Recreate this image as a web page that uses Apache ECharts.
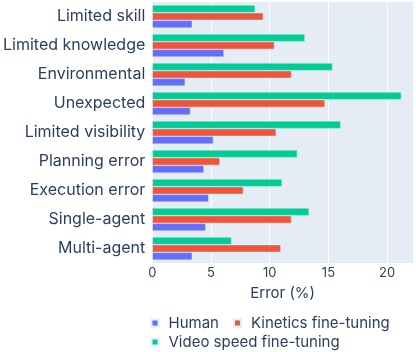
<!DOCTYPE html>
<html><head><meta charset="utf-8">
<script src="https://cdn.jsdelivr.net/npm/echarts@6/dist/echarts.min.js"></script>
<style>html,body{margin:0;padding:0;background:#fff}#c{width:416px;height:352px}</style>
</head><body><div id="c"></div>
<script>
const categories = ["Limited skill","Limited knowledge","Environmental","Unexpected","Limited visibility","Planning error","Execution error","Single-agent","Multi-agent"];
const human = [3.4, 6.1, 2.8, 3.25, 5.2, 4.4, 4.8, 4.55, 3.4];
const kinetics = [9.45, 10.4, 11.85, 14.7, 10.55, 5.75, 7.75, 11.85, 10.95];
const videoSpeed = [8.75, 13.0, 15.35, 21.2, 16.05, 12.35, 11.05, 13.35, 6.75];
const xTicks = [0, 5, 10, 15, 20];

const font = "Inter, 'Open Sans', sans-serif";
const txt = '#2a3f5f';
const chart = echarts.init(document.getElementById('c'), null, {renderer: 'canvas'});
function s(name, data, color){
  return {name, type:'bar', data, barGap:'0%', barCategoryGap:'20%',
    itemStyle:{color, borderColor:'#E5ECF6', borderWidth:0.5}};
}
const legendBase = {itemWidth:7, itemHeight:7, itemGap:14, icon:'rect', padding:0,
  textStyle:{color:txt, fontSize:15, fontFamily:font, padding:[0,0,0,5]}};
chart.setOption({
  animation:false,
  textStyle:{fontFamily:font},
  grid:{left:150.7, right:3, top:2, bottom:89, show:true, backgroundColor:'#E5ECF6', borderWidth:0, containLabel:false},
  xAxis:{type:'value', min:0, max:22.2, interval:5,
    axisLine:{show:false}, axisTick:{show:false},
    splitLine:{lineStyle:{color:'#ffffff', width:1}},
    axisLabel:{color:txt, fontSize:13, fontFamily:font, margin:4,
      formatter:v=> xTicks.includes(v) ? String(v) : ''},
    name:'Error (%)', nameLocation:'middle', nameGap:23,
    nameTextStyle:{color:txt, fontSize:15, fontFamily:font}},
  yAxis:{type:'category', data:categories, inverse:true,
    axisLine:{show:false}, axisTick:{show:false},
    axisLabel:{color:txt, fontSize:16, fontFamily:font, margin:7}},
  legend:[
    Object.assign({left:150.5, top:315.5, data:['Human','Kinetics fine-tuning']}, legendBase),
    Object.assign({left:150.5, top:334.5, data:['Video speed fine-tuning']}, legendBase)
  ],
  series:[s('Video speed fine-tuning', videoSpeed, '#00cc96'), s('Kinetics fine-tuning', kinetics, '#ef553b'), s('Human', human, '#636efa')]
});
</script></body></html>
